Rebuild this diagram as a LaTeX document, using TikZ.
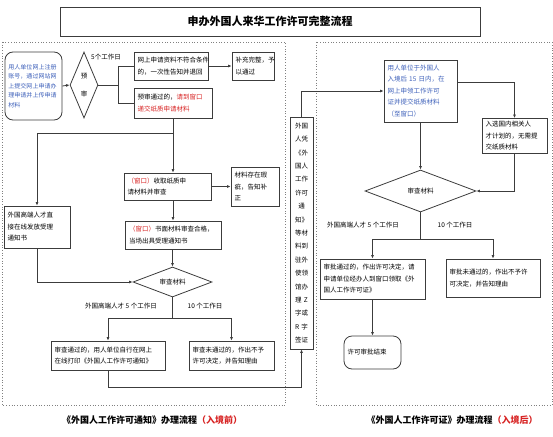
\documentclass[tikz,border=0pt]{standalone}
\usepackage{fontspec}
\setmainfont{Noto Sans CJK SC}
\usetikzlibrary{shapes.geometric,arrows.meta}
\definecolor{boxline}{RGB}{60,60,60}
\definecolor{txtblue}{RGB}{60,95,185}
\definecolor{txtred}{RGB}{215,35,35}
\tikzset{
  box/.style={draw=boxline,line width=0.8pt,inner sep=3pt,align=left,font=\fontsize{6.5}{11.5}\selectfont},
  roundbox/.style={box,rounded corners=8pt},
  choice/.style={draw=boxline,line width=0.8pt,shape=diamond,inner sep=0pt,align=center,font=\fontsize{6.5}{9}\selectfont},
  note/.style={font=\fontsize{6.5}{8}\selectfont,inner sep=0pt},
  arr/.style={draw=boxline,line width=0.8pt,-{Latex[length=3.5pt,width=3pt]}},
  link/.style={draw=boxline,line width=0.8pt},
  region/.style={draw=gray,dotted,line width=0.7pt},
  caption/.style={font=\fontsize{9}{11}\selectfont\bfseries,inner sep=0pt}
}
\newcommand{\redtxt}[1]{\textcolor{txtred}{#1}}
\begin{document}
\begin{tikzpicture}[x=1pt,y=-1pt]
    \useasboundingbox (0,0) rectangle (553,436);
    % title
    \node[draw=boxline,line width=0.8pt,minimum width=420pt,minimum height=29pt,font=\fontsize{11}{13}\selectfont\bfseries] (title) at (270,21.5) {申办外国人来华工作许可完整流程};
    % dotted frames
    \draw[region] (2,42) rectangle (285,405);
    \draw[region] (316,42) rectangle (552,405);

    % before entry
    \node[roundbox,minimum width=57pt,minimum height=68pt,text width=50pt,text=txtblue,font=\fontsize{6}{9.5}\selectfont] (reg) at (33.5,86) {用人单位网上注册\\账号，通过网站网\\上提交网上申请办\\理申请并上传申请\\材料};
    \node[choice,aspect=0.42,minimum width=28pt,minimum height=66pt,font=\fontsize{6.5}{18}\selectfont] (pre) at (84,85) {预\\审};
    \node[note] (days0) at (106,57) {5个工作日};
    \node[box,minimum width=74pt,minimum height=28pt,text width=67pt] (rej) at (171,66) {网上申请资料不符合条件\\的，一次性告知并退回};
    \node[box,minimum width=42pt,minimum height=28pt,text width=35pt] (sup) at (253,66) {补充完整，予\\以通过};
    \node[box,minimum width=78pt,minimum height=30pt,text width=71pt] (pass) at (173,103) {预审通过的，\redtxt{请到窗口}\\\redtxt{递交纸质申请材料}};
    \node[box,minimum width=87pt,minimum height=27pt,text width=80pt] (recv) at (167.5,186.5) {\redtxt{（窗口）}收取纸质申\\请材料并审查};
    \node[box,minimum width=48pt,minimum height=39pt,text width=41pt] (flaw) at (255,186.5) {材料存在瑕\\疵，告知补\\正};
    \node[box,minimum width=96pt,minimum height=28pt,text width=89pt] (ok) at (173.5,235) {\redtxt{（窗口）}书面材料审查合格，\\当场出具受理通知书};
    \node[box,minimum width=66pt,minimum height=42pt,text width=59pt] (high) at (37,227) {外国高端人才直\\接在线发放受理\\通知书};
    \node[choice,aspect=2.6,minimum width=79pt,minimum height=30pt] (check1) at (172.5,282) {审查材料};
    \node[note] (days1) at (121,306) {外国高端人才 5 个工作日};
    \node[note] (days2) at (205,306) {10 个工作日};
    \node[box,minimum width=114pt,minimum height=29pt,text width=107pt] (yes1) at (108,355.5) {审查通过的，用人单位自行在网上\\在线打印《外国人工作许可通知》};
    \node[box,minimum width=85pt,minimum height=29pt,text width=78pt] (no1) at (231.5,355.5) {审查未通过的，作出不予\\许可决定，并告知理由};

    % visa
    \node[box,minimum width=23pt,minimum height=232pt,text width=16pt,align=center,inner sep=2pt,font=\fontsize{6.5}{13.4}\selectfont] (visa) at (301.5,233) {外国\\人凭\\《外\\国人\\工作\\许可\\通\\知》\\等材\\料到\\驻外\\使领\\馆办\\理 Z\\字或\\R 字\\签证};

    % after entry
    \node[box,minimum width=73pt,minimum height=62pt,text width=66pt,text=txtblue] (apply) at (420.5,91) {用人单位于外国人\\入境后 15 日内，在\\网上申领工作许可\\证并提交纸质材料\\（至窗口）};
    \node[box,minimum width=65pt,minimum height=34pt,text width=58pt] (talent) at (514.5,136) {入选国内相关人\\才计划的，无需提\\交纸质材料};
    \node[choice,aspect=2.6,minimum width=111pt,minimum height=42pt] (check2) at (420.5,191) {审查材料};
    \node[note] (days3) at (363,225) {外国高端人才 5 个工作日};
    \node[note] (days4) at (455,225) {10 个工作日};
    \node[box,minimum width=105pt,minimum height=40pt,text width=98pt] (yes2) at (372.5,279) {审批通过的，作出许可决定，请\\申请单位经办人到窗口领取《外\\国人工作许可证》};
    \node[box,minimum width=94pt,minimum height=38pt,text width=87pt] (no2) at (493,278) {审批未通过的，作出不予许\\可决定，并告知理由};
    \node[roundbox,minimum width=57pt,minimum height=33pt,text width=50pt] (done) at (372.5,352.5) {许可审批结束\\[6pt]};

    % captions
    \node[caption] (cap1) at (152,420) {《外国人工作许可通知》办理流程\redtxt{（入境前）}};
    \node[caption] (cap2) at (452,420) {《外国人工作许可证》办理流程\redtxt{（入境后）}};

    % connectors, before entry
    \draw[arr] (reg.east) -- (pre.west);
    \coordinate (split1) at (118,85);
    \draw[link] (pre.east) -- (split1);
    \draw[link] (split1) |- (rej.west);
    \draw[link] (split1) |- (pass.west);
    \draw[arr] (rej.east) -- (sup.west);
    \draw[arr] (pass.south) -- (pass.south |- recv.north);
    \coordinate (tap1) at (173,133);
    \draw[arr] (tap1) -| (high.north);
    \draw[arr] (recv.east |- flaw.west) -- (flaw.west);
    \draw[arr] (pass.south |- recv.south) -- (pass.south |- ok.north);
    \draw[arr] (ok.south -| check1.north) -- (check1.north);
    \draw[arr] (high.south) |- (check1.west);
    \coordinate (fork1) at (172.5,318);
    \draw[link] (check1.south) -- (fork1);
    \draw[arr] (fork1) -| (yes1.north);
    \draw[arr] (fork1) -| (no1.north);
    \draw[arr] (yes1.south) -- ++(0,17) -| (visa.south);
    \draw[arr] (visa.north) |- (apply.west);

    % connectors, after entry
    \draw[arr] ([yshift=9pt]apply.east) -| (talent.north);
    \draw[arr] (talent.south) |- (check2.east);
    \draw[arr] (apply.south) -- (check2.north);
    \coordinate (fork2) at (420.5,239);
    \draw[link] (check2.south) -- (fork2);
    \draw[arr] (fork2) -| (yes2.north);
    \draw[arr] (fork2) -| (no2.north);
    \draw[arr] (yes2.south) -- (done.north);
\end{tikzpicture}
\end{document}
